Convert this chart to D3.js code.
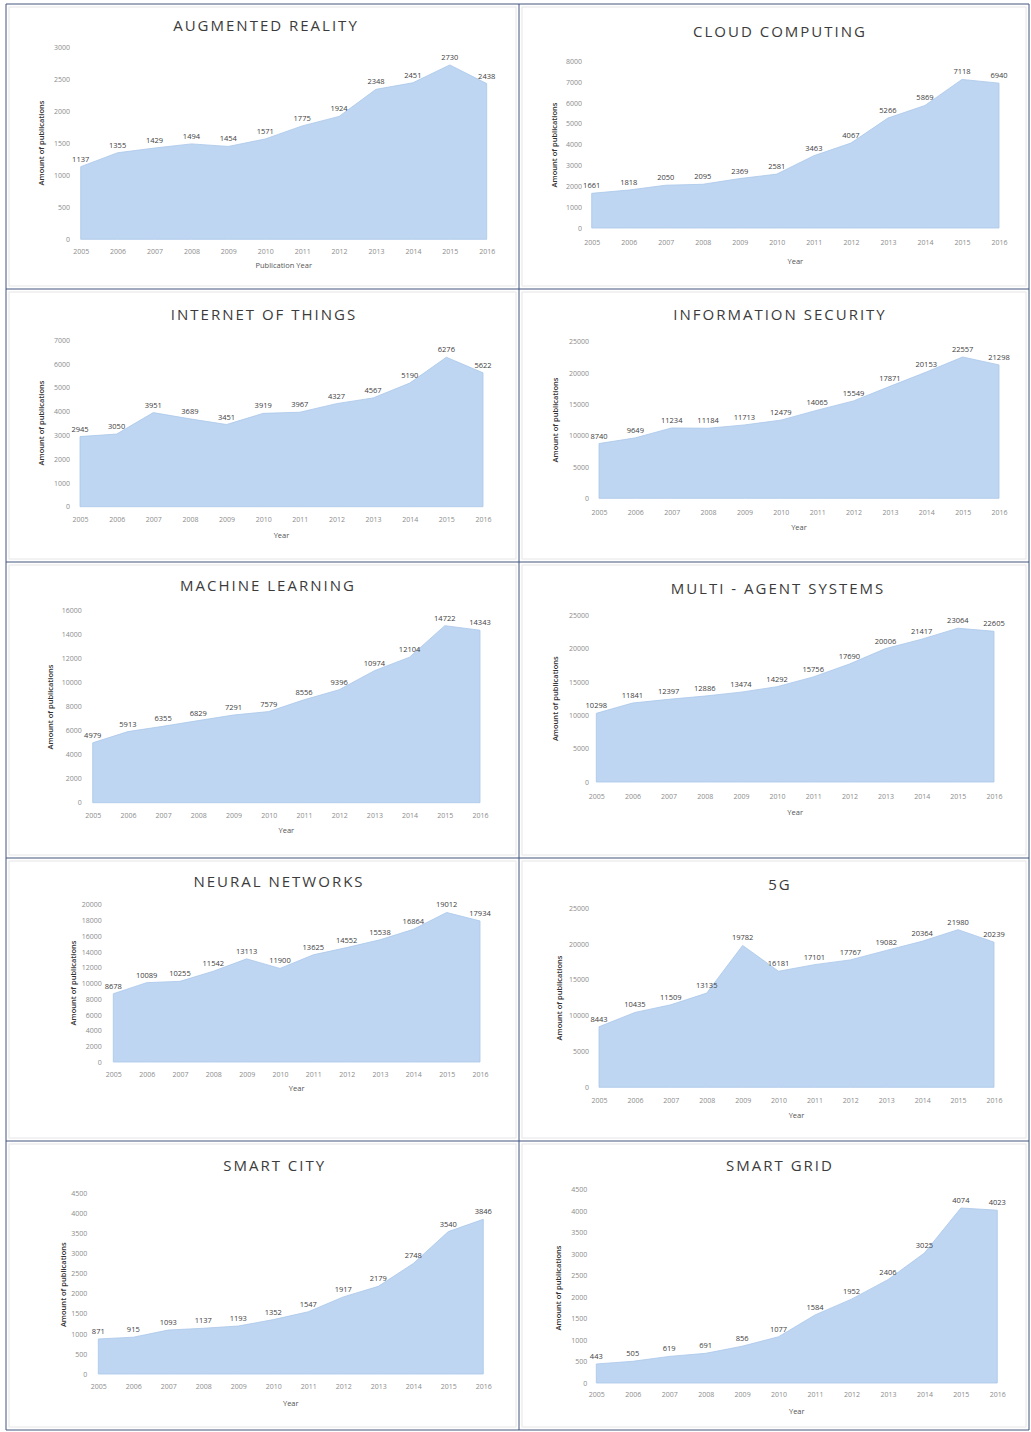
<!DOCTYPE html>
<html>
<head>
<meta charset="utf-8">
<script src="https://cdn.jsdelivr.net/npm/d3@7"></script>
<style>
  body { margin: 0; background: #fff; }
  svg { display: block; }
  .tick text { font-family: 'Open Sans', sans-serif; font-size: 7px; fill: #8c8c8c; }
</style>
</head>
<body>
<svg id="page" width="1031" height="1432"></svg>
<script>
/* global d3 */

const years = ['2005', '2006', '2007', '2008', '2009', '2010', '2011', '2012', '2013', '2014', '2015', '2016']

const arValues = [1137, 1355, 1429, 1494, 1454, 1571, 1775, 1924, 2348, 2451, 2730, 2438]
const ccValues = [1661, 1818, 2050, 2095, 2369, 2581, 3463, 4067, 5266, 5869, 7118, 6940]
const iotValues = [2945, 3050, 3951, 3689, 3451, 3919, 3967, 4327, 4567, 5190, 6276, 5622]
const isValues = [8740, 9649, 11234, 11184, 11713, 12479, 14065, 15549, 17871, 20153, 22557, 21298]
const mlValues = [4979, 5913, 6355, 6829, 7291, 7579, 8556, 9396, 10974, 12104, 14722, 14343]
const masValues = [10298, 11841, 12397, 12886, 13474, 14292, 15756, 17690, 20006, 21417, 23064, 22605]
const nnValues = [8678, 10089, 10255, 11542, 13113, 11900, 13625, 14552, 15538, 16864, 19012, 17934]
const g5Values = [8443, 10435, 11509, 13135, 19782, 16181, 17101, 17767, 19082, 20364, 21980, 20239]
const scValues = [871, 915, 1093, 1137, 1193, 1352, 1547, 1917, 2179, 2748, 3540, 3846]
const sgValues = [443, 505, 619, 691, 856, 1077, 1584, 1952, 2406, 3025, 4074, 4023]

const arTicks = [0, 500, 1000, 1500, 2000, 2500, 3000]
const ccTicks = [0, 1000, 2000, 3000, 4000, 5000, 6000, 7000, 8000]
const iotTicks = [0, 1000, 2000, 3000, 4000, 5000, 6000, 7000]
const isTicks = [0, 5000, 10000, 15000, 20000, 25000]
const mlTicks = [0, 2000, 4000, 6000, 8000, 10000, 12000, 14000, 16000]
const masTicks = [0, 5000, 10000, 15000, 20000, 25000]
const nnTicks = [0, 2000, 4000, 6000, 8000, 10000, 12000, 14000, 16000, 18000, 20000]
const g5Ticks = [0, 5000, 10000, 15000, 20000, 25000]
const scTicks = [0, 500, 1000, 1500, 2000, 2500, 3000, 3500, 4000, 4500]
const sgTicks = [0, 500, 1000, 1500, 2000, 2500, 3000, 3500, 4000, 4500]

// where each little chart sits on the page
const panels = [
  { title: 'AUGMENTED REALITY', values: arValues, ticks: arTicks, xTitle: 'Publication Year',
    titleX: 265, titleY: 30.7, x0: 80.7, x1: 486.7, y0: 239.3, yTop: 47.7, yTickRight: 70,
    xTickY: 252, xTitleY: 265.7, yTitleX: 41.7, yTitleY: 143 },
  { title: 'CLOUD COMPUTING', values: ccValues, ticks: ccTicks, xTitle: 'Year',
    titleX: 779, titleY: 37, x0: 591.7, x1: 999, y0: 228, yTop: 61, yTickRight: 582,
    xTickY: 243, xTitleY: 261.7, yTitleX: 554, yTitleY: 145 },
  { title: 'INTERNET OF THINGS', values: iotValues, ticks: iotTicks, xTitle: 'Year',
    titleX: 263, titleY: 320, x0: 80, x1: 483, y0: 506.7, yTop: 340, yTickRight: 70,
    xTickY: 520, xTitleY: 535, yTitleX: 41.7, yTitleY: 423 },
  { title: 'INFORMATION SECURITY', values: isValues, ticks: isTicks, xTitle: 'Year',
    titleX: 779, titleY: 320, x0: 599, x1: 999, y0: 498.3, yTop: 341.7, yTickRight: 589,
    xTickY: 512.7, xTitleY: 527.7, yTitleX: 555.7, yTitleY: 420 },
  { title: 'MACHINE LEARNING', values: mlValues, ticks: mlTicks, xTitle: 'Year',
    titleX: 267, titleY: 590.7, x0: 92.7, x1: 480, y0: 802.7, yTop: 610.3, yTickRight: 81.7,
    xTickY: 816, xTitleY: 830, yTitleX: 50, yTitleY: 707 },
  { title: 'MULTI - AGENT SYSTEMS', values: masValues, ticks: masTicks, xTitle: 'Year',
    titleX: 777, titleY: 593.7, x0: 596.3, x1: 994, y0: 782, yTop: 615.3, yTickRight: 589,
    xTickY: 797, xTitleY: 812.7, yTitleX: 555.7, yTitleY: 698.7 },
  { title: 'NEURAL NETWORKS', values: nnValues, ticks: nnTicks, xTitle: 'Year',
    titleX: 278, titleY: 887.3, x0: 113.3, x1: 480, y0: 1062, yTop: 904.7, yTickRight: 101.7,
    xTickY: 1074.7, xTitleY: 1088, yTitleX: 73.3, yTitleY: 983 },
  { title: '5G', values: g5Values, ticks: g5Ticks, xTitle: 'Year',
    titleX: 779, titleY: 889.7, x0: 599, x1: 994, y0: 1087.3, yTop: 908, yTickRight: 589,
    xTickY: 1100.7, xTitleY: 1115.3, yTitleX: 559, yTitleY: 998 },
  { title: 'SMART CITY', values: scValues, ticks: scTicks, xTitle: 'Year',
    titleX: 273.7, titleY: 1171.3, x0: 98.3, x1: 483.3, y0: 1374, yTop: 1193, yTickRight: 87.3,
    xTickY: 1387.3, xTitleY: 1403, yTitleX: 63.3, yTitleY: 1284.7 },
  { title: 'SMART GRID', values: sgValues, ticks: sgTicks, xTitle: 'Year',
    titleX: 779, titleY: 1171.3, x0: 596.3, x1: 997.3, y0: 1383, yTop: 1189.7, yTickRight: 587.3,
    xTickY: 1395.3, xTitleY: 1411.3, yTitleX: 558.3, yTitleY: 1288 }
]

const colLines = [6, 519, 1029]
const rowLines = [4, 289, 562, 858, 1141, 1430]

const svg = d3.select('#page')

// faint excel chart frames
for (let r = 0; r < rowLines.length - 1; r++) {
  for (let c = 0; c < colLines.length - 1; c++) {
    svg.append('rect')
      .attr('x', colLines[c] + 3).attr('y', rowLines[r] + 3)
      .attr('width', colLines[c + 1] - colLines[c] - 6)
      .attr('height', rowLines[r + 1] - rowLines[r] - 6)
      .attr('fill', 'none').attr('stroke', '#e6e6e6').attr('stroke-width', 1)
  }
}

panels.forEach((p) => {
  const g = svg.append('g')
  const x = d3.scalePoint().domain(years).range([p.x0, p.x1])
  const y = d3.scaleLinear().domain([0, d3.max(p.ticks)]).range([p.y0, p.yTop])
  const rows = years.map((yr, i) => ({ year: yr, value: p.values[i] }))

  const area = d3.area()
    .x((d) => x(d.year))
    .y0(p.y0)
    .y1((d) => y(d.value))

  g.append('path')
    .datum(rows)
    .attr('d', area)
    .attr('fill', '#bed6f1')
    .attr('stroke', '#a9c6ea')
    .attr('stroke-width', 0.8)

  const yAxis = g.append('g')
    .attr('transform', `translate(${p.x0},0)`)
    .call(d3.axisLeft(y).tickValues(p.ticks).tickSize(0).tickPadding(p.x0 - p.yTickRight).tickFormat(d3.format('d')))
  yAxis.select('.domain').remove()

  const xAxis = g.append('g')
    .attr('transform', `translate(0,${p.y0})`)
    .call(d3.axisBottom(x).tickSize(0).tickPadding(p.xTickY - p.y0 - 3))
  xAxis.select('.domain').remove()

  g.selectAll('.lbl')
    .data(rows)
    .enter()
    .append('text')
    .attr('class', 'lbl')
    .attr('x', (d) => x(d.year))
    .attr('y', (d) => y(d.value) - 5)
    .attr('text-anchor', 'middle')
    .attr('font-family', 'Open Sans, sans-serif')
    .attr('font-size', 7.5)
    .attr('fill', '#404040')
    .text((d) => d.value)

  g.append('text')
    .attr('x', p.titleX + 1)
    .attr('y', p.titleY)
    .attr('text-anchor', 'middle')
    .attr('font-family', 'Open Sans, sans-serif')
    .attr('font-size', 15)
    .attr('letter-spacing', 2)
    .attr('fill', '#3b3b3b')
    .text(p.title)

  g.append('text')
    .attr('x', (p.x0 + p.x1) / 2)
    .attr('y', p.xTitleY + 2.5)
    .attr('text-anchor', 'middle')
    .attr('font-family', 'Open Sans, sans-serif')
    .attr('font-size', 7.5)
    .attr('fill', '#555')
    .text(p.xTitle)

  g.append('text')
    .attr('transform', `translate(${p.yTitleX + 2.5},${p.yTitleY}) rotate(-90)`)
    .attr('text-anchor', 'middle')
    .attr('font-family', 'Open Sans, sans-serif')
    .attr('font-size', 7.5)
    .attr('font-weight', 600)
    .attr('fill', '#333')
    .text('Amount of publications')
})

// table grid of the figure
colLines.forEach((cx) => {
  svg.append('line').attr('x1', cx).attr('x2', cx).attr('y1', rowLines[0]).attr('y2', rowLines[rowLines.length - 1])
    .attr('stroke', '#44557f').attr('stroke-width', 1)
})
rowLines.forEach((ry) => {
  svg.append('line').attr('x1', colLines[0]).attr('x2', colLines[colLines.length - 1]).attr('y1', ry).attr('y2', ry)
    .attr('stroke', '#44557f').attr('stroke-width', 1)
})
</script>
</body>
</html>
